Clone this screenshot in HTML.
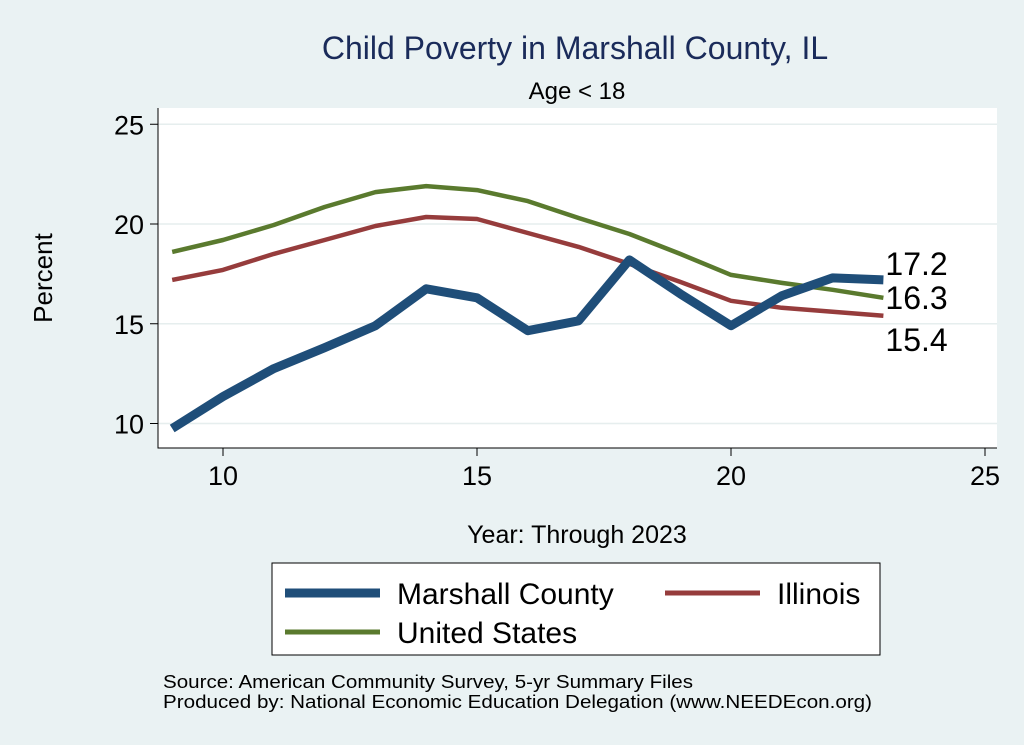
<!DOCTYPE html>
<html><head><meta charset="utf-8"><style>
body{margin:0;background:#eaf2f3;}
svg{display:block;font-family:"Liberation Sans",Arial,sans-serif;}
</style></head><body>
<svg id="chart" width="1024" height="745">
<rect x="0" y="0" width="1024" height="745" fill="#eaf2f3"/>
<rect x="158" y="108" width="839" height="340" fill="#ffffff"/>
<text x="575" y="59" font-size="32" fill="#1a2b5a" text-anchor="middle">Child Poverty in Marshall County, IL</text>
<text x="577" y="99" font-size="24" fill="#000" text-anchor="middle">Age &lt; 18</text>
<g id="grid"></g><g id="axes"></g><g id="series"></g>
<text x="52" y="278" font-size="26" text-anchor="middle" transform="rotate(-90 52 278)">Percent</text>
<text x="577" y="543" font-size="25" text-anchor="middle">Year: Through 2023</text>
<g>
<rect x="272" y="563" width="608" height="92" fill="#fff" stroke="#000" stroke-width="1"/>
<line x1="285" y1="593" x2="380" y2="593" stroke="#1f4e79" stroke-width="9"/>
<text x="397" y="604" font-size="30">Marshall County</text>
<line x1="665" y1="593" x2="760" y2="593" stroke="#963c3c" stroke-width="5"/>
<text x="777" y="604" font-size="30">Illinois</text>
<line x1="285" y1="632" x2="380" y2="632" stroke="#5a7a2e" stroke-width="5"/>
<text x="397" y="643" font-size="30">United States</text>
</g>
<text x="163" y="688" font-size="18" textLength="530" lengthAdjust="spacingAndGlyphs">Source: American Community Survey, 5-yr Summary Files</text>
<text x="163" y="708" font-size="18" textLength="709" lengthAdjust="spacingAndGlyphs">Produced by: National Economic Education Delegation (www.NEEDEcon.org)</text>
</svg>
<script>
const years=[9,10,11,12,13,14,15,16,17,18,19,20,21,22,23];
const marshall=[9.75,11.35,12.75,13.8,14.9,16.75,16.3,14.65,15.15,18.2,16.5,14.9,16.4,17.3,17.2];
const illinois=[17.2,17.7,18.5,19.2,19.9,20.35,20.25,19.55,18.85,18.0,17.1,16.15,15.8,15.6,15.4];
const usa=[18.6,19.2,19.95,20.85,21.6,21.9,21.7,21.15,20.3,19.5,18.5,17.45,17.05,16.7,16.3];
const xTicks=[10,15,20,25];
const yTicks=[10,15,20,25];
const NS="http://www.w3.org/2000/svg";
const X=v=>223+(v-10)*50.8;
const Y=v=>224-(v-20)*19.95;
function mk(t,a,p){const e=document.createElementNS(NS,t);for(const k in a)e.setAttribute(k,a[k]);document.getElementById(p).appendChild(e);return e;}
yTicks.forEach(t=>{
 const g=mk('line',{x1:158,x2:997,y1:Y(t),y2:Y(t),stroke:'#e6eeee','stroke-width':1.5},'grid');
 
 
 const k=mk('line',{x1:150,x2:158,y1:Y(t),y2:Y(t),stroke:'#000'},'axes');
 
 
 const l=mk('text',{x:144,y:Y(t)+10,'font-size':27,'text-anchor':'end'},'axes');l.textContent=t;
 
 
});
xTicks.forEach(t=>{
 const k=mk('line',{x1:X(t),x2:X(t),y1:448,y2:456,stroke:'#000'},'axes');
 
 
 const l=mk('text',{x:X(t),y:485,'font-size':27,'text-anchor':'middle'},'axes');l.textContent=t;
 
 
});
const ax=mk('path',{d:'M158 108 V448 H997',fill:'none',stroke:'#000','stroke-width':1},'axes');


function line(vals,color,w,name){
 const d=vals.map((v,i)=>(i?'L':'M')+X(years[i]).toFixed(1)+' '+Y(v).toFixed(1)).join(' ');
 const p=mk('path',{d:d,fill:'none',stroke:color,'stroke-width':w,'stroke-linejoin':'round'},'series');
 
 
}
line(usa,'#5a7a2e',4.5,'line-united-states');
line(illinois,'#963c3c',4.5,'line-illinois');
line(marshall,'#1f4e79',9,'line-marshall-county');
const last=years.length-1;
[[marshall,-5,'label-marshall-last'],[usa,11,'label-us-last'],[illinois,35,'label-illinois-last']].forEach(([s,dy,n])=>{
 const t=mk('text',{x:X(years[last])+2,y:Y(s[last])+dy,'font-size':32},'series');
 t.textContent=s[last].toFixed(1);
 
 
});
</script>
</body></html>
